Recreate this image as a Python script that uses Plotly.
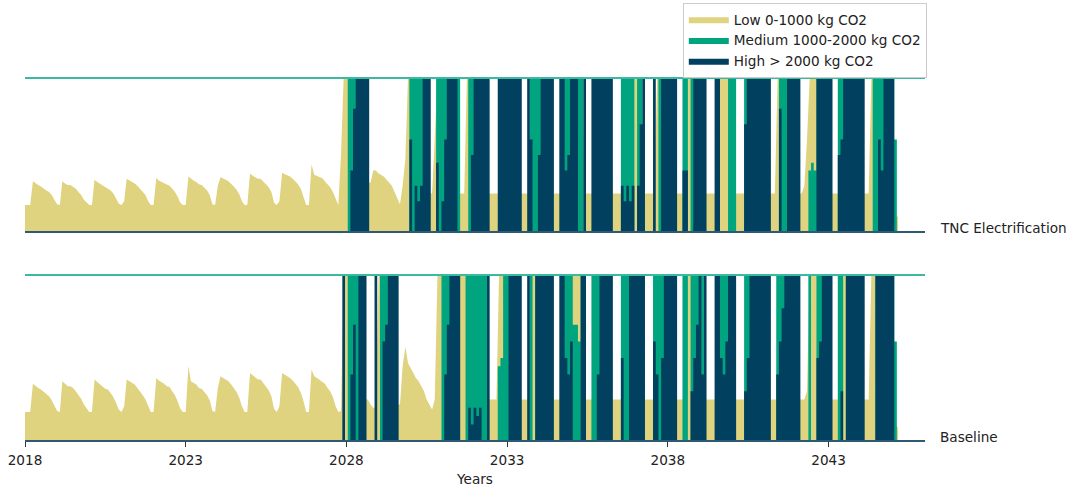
import pandas as pd
import plotly.graph_objects as go

# Monthly share of the fleet (percent of panel height) in each emission class,
# one value per month starting January 2018.
START = "2018-01-01"

tnc_low = [
    17.5, 17.5, 17.5, 33, 31.5, 30.5, 29.5, 28, 27, 26, 24, 21,
    18, 17.5, 33, 31.5, 30.5, 30.5, 29.5, 28, 26, 24, 21, 19,
    17.5, 17.5, 34, 32.5, 31.5, 30.5, 29, 28.5, 27, 25, 22, 18.5,
    17.5, 20, 34.5, 33.5, 32.5, 31.5, 30, 28, 26, 24, 20, 17.5,
    17.5, 35, 33.5, 32.5, 31.5, 30.5, 30, 28, 26, 23, 19, 17.5,
    17.5, 36, 34.5, 33.5, 32.5, 31, 30.5, 29, 27, 24, 18, 17.5,
    30, 35.5, 35, 34, 33, 31.5, 29.5, 27.5, 24.5, 20, 17.5, 17.5,
    38, 36.5, 35.5, 34.5, 34.5, 33, 31, 29, 26, 19, 17.5, 20,
    38.5, 37.5, 37, 36, 34.5, 33, 31, 28, 23, 17.5, 17.5, 44,
    37, 36.5, 35.5, 35, 33, 31, 29, 26, 21, 17.5, 50, 100,
    100, 100, 100, 100, 100, 100, 100, 100, 32, 32, 40, 40,
    38, 37, 36, 34, 32, 30, 26, 22, 18, 30, 47, 100,
    100, 100, 100, 100, 100, 100, 100, 25, 25, 60, 100, 100,
    100, 100, 100, 100, 100, 100, 25, 25, 25, 100, 100, 100,
    100, 100, 100, 100, 100, 25, 25, 25, 25, 25, 100, 100,
    100, 100, 100, 100, 100, 25, 25, 25, 25, 100, 100, 100,
    100, 100, 100, 100, 100, 25, 25, 25, 25, 100, 100, 100,
    100, 100, 100, 100, 100, 25, 25, 25, 25, 100, 100, 100,
    100, 100, 100, 25, 25, 25, 25, 25, 100, 100, 100, 100,
    100, 100, 100, 25, 25, 25, 25, 25, 100, 100, 100, 100,
    100, 100, 100, 25, 25, 25, 25, 100, 100, 100, 100, 100,
    100, 100, 25, 25, 25, 25, 25, 100, 100, 100, 100, 100,
    100, 25, 25, 25, 25, 25, 100, 100, 100, 100, 100, 100,
    100, 100, 25, 25, 25, 100, 100, 100, 100, 100, 100, 100,
    100, 25, 25, 30, 60, 100, 100, 100, 100, 100, 100, 100,
    100, 25, 25, 25, 25, 100, 100, 100, 100, 100, 100, 100,
    100, 25, 25, 25, 100, 100, 100, 100, 100, 100, 100, 100,
    100, 10, 10,
]

tnc_medium = [0] * 120 + [
    0, 100, 100, 100, 100, 100, 100, 100, 0, 0, 0, 0,
    0, 0, 0, 0, 0, 0, 0, 0, 0, 0, 0, 0,
    100, 100, 100, 100, 100, 100, 100, 0, 0, 0, 100, 100,
    100, 100, 100, 100, 100, 100, 100, 0, 0, 0, 100, 100,
    100, 100, 100, 100, 100, 0, 0, 0, 0, 0, 100, 100,
    100, 100, 100, 100, 100, 0, 0, 0, 0, 100, 100, 100,
    100, 100, 100, 100, 100, 0, 0, 0, 0, 100, 100, 100,
    100, 100, 100, 100, 100, 0, 0, 0, 0, 100, 100, 100,
    100, 100, 100, 0, 0, 0, 0, 100, 100, 100, 100, 100,
    0, 100, 100, 0, 0, 0, 0, 0, 0, 100, 100, 100,
    100, 100, 100, 0, 0, 0, 100, 100, 0, 100, 100, 100,
    100, 100, 0, 0, 0, 0, 0, 100, 0, 0, 0, 100,
    100, 100, 0, 0, 0, 100, 100, 100, 100, 100, 100, 100,
    100, 100, 0, 0, 0, 0, 100, 100, 100, 100, 100, 100,
    100, 0, 0, 0, 0, 40, 45, 40, 100, 100, 100, 100,
    100, 0, 0, 0, 100, 100, 100, 100, 100, 100, 100, 100,
    100, 0, 0, 0, 0, 100, 100, 100, 100, 100, 100, 100,
    100, 60, 0,
]

tnc_high = [0] * 120 + [
    0, 0, 40, 80, 100, 100, 100, 100, 100, 0, 0, 0,
    0, 0, 0, 0, 0, 0, 0, 0, 0, 0, 0, 0,
    60, 0, 30, 20, 30, 100, 100, 100, 0, 0, 45, 0,
    20, 60, 100, 100, 100, 100, 0, 0, 0, 0, 0, 50,
    100, 100, 100, 100, 100, 100, 0, 0, 0, 100, 100, 100,
    100, 100, 100, 100, 100, 100, 0, 0, 100, 60, 0, 0,
    50, 100, 100, 100, 100, 100, 0, 0, 100, 100, 40, 50,
    100, 100, 100, 0, 0, 100, 0, 0, 100, 100, 100, 100,
    100, 100, 100, 100, 0, 0, 0, 30, 20, 30, 20, 30,
    0, 30, 70, 100, 0, 0, 0, 100, 0, 0, 100, 100,
    100, 100, 100, 100, 0, 0, 40, 40, 0, 0, 100, 100,
    100, 100, 100, 0, 0, 0, 100, 100, 0, 0, 0, 0,
    0, 0, 0, 0, 0, 70, 100, 100, 100, 100, 100, 100,
    100, 100, 100, 0, 0, 0, 80, 0, 0, 100, 100, 100,
    100, 100, 0, 0, 0, 0, 0, 0, 100, 100, 100, 100,
    100, 100, 0, 0, 50, 60, 100, 100, 100, 100, 100, 100,
    100, 100, 0, 0, 0, 0, 0, 60, 40, 100, 100, 100,
    100, 0, 0,
]

base_low = [
    17.5, 17.5, 17.5, 34.5, 33, 32, 31, 29.5, 28, 27, 24.5, 21,
    18, 17.5, 36, 34.5, 33, 33, 32, 30, 28, 25.5, 22, 19.5,
    17.5, 17.5, 37, 35.5, 34, 33, 31.5, 31, 29, 26.5, 23, 19,
    17.5, 21, 37, 36, 35, 34, 32, 30, 27.5, 25, 21, 17.5,
    17.5, 38, 36.5, 35.5, 34.5, 33, 32.5, 30, 27.5, 24, 19.5, 17.5,
    17.5, 45, 36, 35, 34, 32, 31.5, 29.5, 27.5, 24.5, 18, 17.5,
    32, 39, 38, 37, 36, 34, 32, 29.5, 26, 21, 17.5, 17.5,
    41, 39.5, 38.5, 37, 37, 35, 33, 30.5, 27, 19.5, 17.5, 21,
    41, 40, 39, 38, 36.5, 34.5, 32.5, 29, 24, 17.5, 17.5, 43,
    39, 38, 37, 36, 34.5, 32, 30, 26.5, 21, 17.5, 18, 100,
    100, 100, 100, 100, 100, 100, 100, 25, 25, 22, 20, 20,
    100, 100, 100, 100, 100, 100, 100, 22, 22, 45, 57, 47,
    44, 41, 38, 36, 33, 30, 25, 22, 19, 25, 100, 100,
    100, 100, 100, 100, 100, 100, 100, 100, 100, 100, 100, 100,
    100, 100, 100, 100, 100, 25, 25, 25, 25, 100, 100, 100,
    100, 100, 100, 100, 100, 25, 25, 25, 25, 100, 100, 100,
    100, 100, 100, 100, 100, 25, 25, 25, 25, 100, 100, 100,
    100, 100, 100, 100, 100, 25, 25, 25, 25, 100, 100, 100,
    100, 100, 100, 25, 25, 25, 25, 25, 100, 100, 100, 100,
    100, 100, 100, 25, 25, 25, 25, 25, 100, 100, 100, 100,
    100, 100, 100, 25, 25, 25, 25, 100, 100, 100, 100, 100,
    100, 100, 25, 25, 25, 25, 25, 100, 100, 100, 100, 100,
    100, 25, 25, 25, 25, 25, 100, 100, 100, 100, 100, 100,
    100, 100, 25, 25, 25, 25, 100, 100, 100, 100, 100, 100,
    100, 25, 25, 25, 30, 100, 100, 100, 100, 100, 100, 100,
    100, 25, 25, 25, 25, 100, 100, 100, 100, 100, 100, 100,
    100, 25, 25, 25, 100, 100, 100, 100, 100, 100, 100, 100,
    100, 10, 8,
]

base_medium = [0] * 120 + [
    0, 100, 100, 100, 100, 100, 100, 0, 0, 0, 0, 0,
    0, 100, 100, 100, 100, 100, 100, 0, 0, 0, 0, 0,
    0, 0, 0, 0, 0, 0, 0, 0, 0, 0, 0, 0,
    100, 100, 100, 100, 100, 100, 100, 0, 0, 100, 100, 100,
    100, 100, 100, 100, 100, 0, 0, 0, 0, 45, 50, 100,
    100, 100, 100, 100, 100, 0, 0, 0, 0, 100, 0, 100,
    100, 100, 100, 100, 100, 0, 0, 0, 0, 100, 100, 100,
    100, 70, 70, 60, 100, 0, 0, 0, 100, 100, 100, 100,
    100, 100, 100, 0, 0, 0, 0, 100, 100, 100, 100, 100,
    100, 100, 100, 0, 0, 0, 0, 100, 100, 100, 100, 100,
    100, 100, 100, 0, 0, 0, 100, 100, 0, 100, 100, 100,
    100, 100, 0, 0, 0, 0, 0, 100, 100, 100, 100, 100,
    100, 0, 0, 0, 0, 100, 100, 100, 100, 100, 100, 100,
    100, 100, 0, 0, 0, 100, 100, 100, 100, 100, 100, 100,
    100, 0, 0, 0, 0, 100, 0, 0, 100, 100, 100, 100,
    100, 0, 0, 0, 100, 100, 0, 100, 100, 100, 100, 100,
    100, 0, 0, 0, 0, 0, 100, 100, 100, 100, 100, 100,
    100, 60, 0,
]

base_high = [0] * 119 + [100] + [
    0, 0, 40, 70, 0, 100, 100, 100, 0, 0, 0, 100,
    0, 0, 60, 70, 100, 100, 100, 100, 0, 0, 0, 0,
    0, 0, 0, 0, 0, 0, 0, 0, 0, 0, 0, 0,
    0, 40, 70, 100, 100, 100, 100, 0, 0, 0, 20, 10,
    20, 15, 20, 0, 0, 100, 0, 0, 0, 0, 0, 0,
    0, 100, 100, 100, 100, 100, 0, 0, 100, 0, 0, 100,
    100, 100, 100, 100, 100, 100, 0, 0, 100, 100, 50, 40,
    60, 0, 0, 0, 100, 100, 0, 0, 0, 0, 40, 100,
    100, 100, 100, 100, 0, 0, 0, 50, 0, 0, 100, 100,
    100, 100, 100, 100, 0, 0, 0, 60, 40, 0, 50, 100,
    100, 100, 100, 100, 0, 0, 0, 0, 0, 30, 50, 70,
    100, 40, 100, 0, 0, 0, 100, 100, 50, 40, 60, 100,
    100, 100, 0, 0, 0, 30, 50, 100, 100, 100, 100, 100,
    100, 100, 100, 0, 0, 40, 60, 80, 100, 100, 100, 100,
    100, 100, 0, 0, 0, 0, 0, 0, 50, 60, 100, 100,
    100, 100, 0, 0, 0, 30, 0, 100, 100, 100, 100, 100,
    100, 100, 0, 0, 0, 0, 100, 100, 100, 100, 100, 100,
    100, 0, 0,
]

class_names = ["Low 0-1000 kg CO2", "Medium 1000-2000 kg CO2", "High > 2000 kg CO2"]
class_colors = ["#DFD380", "#00A57F", "#01415F"]
# the low class follows a smooth seasonal curve; the upper classes switch month by month
class_shapes = ["linear", "hvh", "hvh"]
panel_names = ["TNC Electrification", "Baseline"]
tick_years = [2018, 2023, 2028, 2033, 2038, 2043]

FONT = "DejaVu Sans"
TEXT = "#222222"
TEAL_LINE = "#3CB9A2"
AXIS_LINE = "#2E5B73"

# y domains (paper fractions) of the two bands
TOP_DOMAIN = [0.5758, 1.0]
BOTTOM_DOMAIN = [0.0, 0.4573]

panels = [
    (panel_names[0], [tnc_low, tnc_medium, tnc_high], "x", "y"),
    (panel_names[1], [base_low, base_medium, base_high], "x2", "y2"),
]

fig = go.Figure()
for p, (pname, series, xa, ya) in enumerate(panels):
    for name, color, lshape, values in zip(class_names, class_colors, class_shapes, series):
        dates = pd.date_range(START, periods=len(values), freq="MS")
        fig.add_trace(go.Scatter(
            x=dates, y=values, name=name, mode="lines", legendgroup=name,
            line=dict(width=0, color=color, shape=lshape),
            fill="tozeroy", fillcolor=color,
            xaxis=xa, yaxis=ya, showlegend=(p == 0), hoverinfo="skip",
        ))

# Band frame lines: teal along the top of each band, slate along its base
shapes = []
for lo, hi in (TOP_DOMAIN, BOTTOM_DOMAIN):
    shapes.append(dict(type="line", xref="paper", yref="paper", x0=0, x1=1, y0=hi, y1=hi,
                       line=dict(color=TEAL_LINE, width=2), layer="above"))
    shapes.append(dict(type="line", xref="paper", yref="paper", x0=0, x1=1, y0=lo, y1=lo,
                       line=dict(color=AXIS_LINE, width=2), layer="above"))

annotations = [
    dict(text=panel_names[0], xref="paper", yref="y", x=1.0144, y=2.6, xanchor="left",
         yanchor="middle", showarrow=False, font=dict(family=FONT, size=13.6, color=TEXT)),
    dict(text=panel_names[1], xref="paper", yref="y2", x=1.0144, y=2.4, xanchor="left",
         yanchor="middle", showarrow=False, font=dict(family=FONT, size=13.6, color=TEXT)),
]

x_range = ["2018-01-01", "2046-01-01"]
tickvals = [f"{y}-01-01" for y in tick_years]

fig.update_layout(
    width=1072, height=487,
    margin=dict(l=25, r=147, t=78, b=46, autoexpand=False),
    paper_bgcolor="white", plot_bgcolor="white",
    font=dict(family=FONT, size=13.6, color=TEXT),
    showlegend=True,
    legend=dict(x=1.002, xanchor="right", y=1.2066, yanchor="top",
                bgcolor="white", bordercolor="#CCCCCC", borderwidth=1,
                font=dict(family=FONT, size=13.6, color=TEXT),
                tracegroupgap=0, itemwidth=40),
    xaxis=dict(domain=[0, 1], anchor="y", type="date", range=x_range, automargin=False,
               showticklabels=False, ticks="", showgrid=False, zeroline=False, showline=False),
    xaxis2=dict(domain=[0, 1], anchor="y2", type="date", range=x_range, matches="x",
                automargin=False,
                tickvals=tickvals, ticktext=[str(y) for y in tick_years],
                ticks="outside", ticklen=5, tickwidth=1, tickcolor="#333333",
                ticklabelstandoff=2,
                showgrid=False, zeroline=False, showline=False,
                tickfont=dict(family=FONT, size=13.6, color=TEXT),
                title=dict(text="Years", standoff=11, font=dict(family=FONT, size=13.6, color=TEXT))),
    yaxis=dict(domain=TOP_DOMAIN, range=[0, 100], visible=False, fixedrange=True),
    yaxis2=dict(domain=BOTTOM_DOMAIN, range=[0, 100], visible=False, fixedrange=True),
    shapes=shapes,
    annotations=annotations,
)

fig.write_html("out.html")
